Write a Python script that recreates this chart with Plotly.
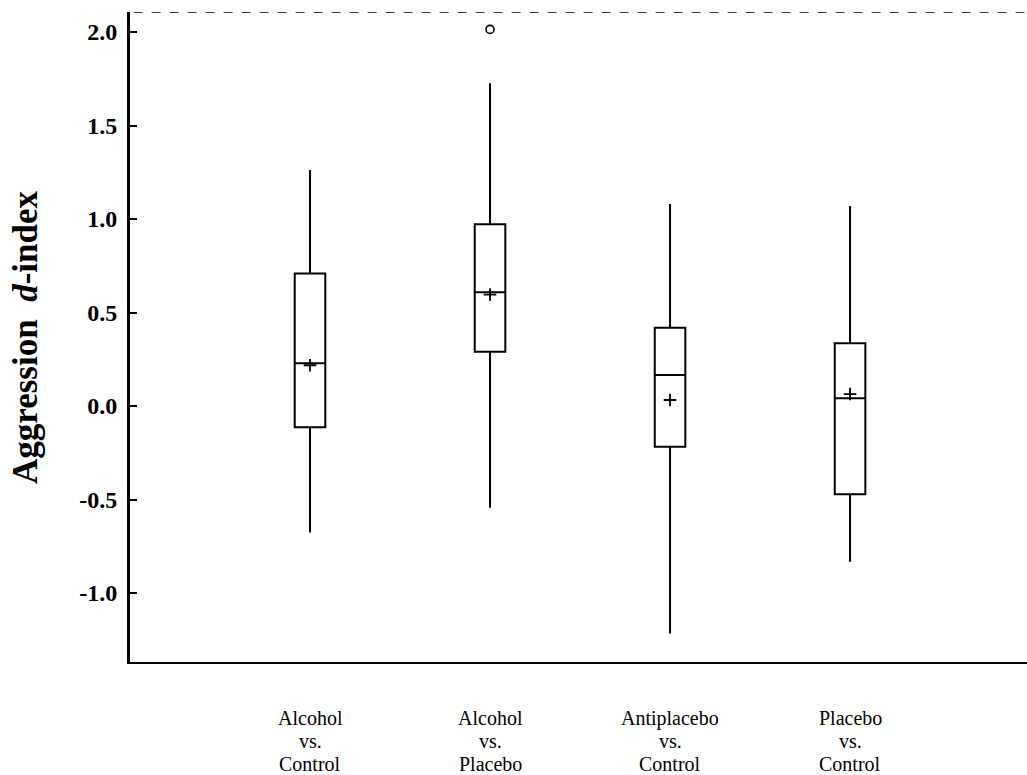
import plotly.graph_objects as go

# ---- data ----
categories = ["Alcohol vs. Control", "Alcohol vs. Placebo",
              "Antiplacebo vs. Control", "Placebo vs. Control"]
label_lines = [["Alcohol", "vs.", "Control"],
               ["Alcohol", "vs.", "Placebo"],
               ["Antiplacebo", "vs.", "Control"],
               ["Placebo", "vs.", "Control"]]
lower_whisker = [-0.677, -0.544, -1.216, -0.833]
q1_values = [-0.114, 0.290, -0.218, -0.472]
median_values = [0.228, 0.608, 0.166, 0.041]
q3_values = [0.709, 0.972, 0.419, 0.335]
upper_whisker = [1.262, 1.726, 1.080, 1.070]
mean_values = [0.218, 0.596, 0.032, 0.064]
outlier_category = ["Alcohol vs. Placebo"]
outlier_values = [2.014]
y_tick_values = [-1.0, -0.5, 0.0, 0.5, 1.0, 1.5, 2.0]
y_tick_labels = ["-1.0", "-0.5", "0.0", "0.5", "1.0", "1.5", "2.0"]

Y_MIN, Y_MAX = -1.369, 2.107
SERIF = "Liberation Serif, Times New Roman, serif"

fig = go.Figure()

fig.add_trace(go.Box(
    x=categories,
    lowerfence=lower_whisker,
    q1=q1_values,
    median=median_values,
    q3=q3_values,
    upperfence=upper_whisker,
    width=0.17,
    whiskerwidth=0,
    fillcolor="white",
    line=dict(color="black", width=2),
    boxpoints=False,
    showlegend=False,
    hoverinfo="skip",
))

fig.add_trace(go.Scatter(
    x=categories, y=mean_values, mode="markers",
    marker=dict(symbol="cross-thin", size=9, color="black",
                line=dict(color="black", width=1.8)),
    showlegend=False, hoverinfo="skip",
))

fig.add_trace(go.Scatter(
    x=outlier_category, y=outlier_values, mode="markers",
    marker=dict(symbol="circle-open", size=8, color="black",
                line=dict(color="black", width=1.6)),
    showlegend=False, hoverinfo="skip",
))

# top dashed border
fig.add_shape(type="line", xref="paper", yref="y",
              x0=0.004, x1=1, y0=Y_MAX, y1=Y_MAX,
              line=dict(color="black", width=1.6, dash="dash"))

# category labels, one annotation per line
shifts = [-56, -79, -102]
for cat, lines in zip(categories, label_lines):
    for txt, sh in zip(lines, shifts):
        fig.add_annotation(x=cat, xref="x", y=0, yref="paper",
                           text=txt, showarrow=False, borderpad=0,
                           xanchor="center", yanchor="middle", yshift=sh,
                           font=dict(family=SERIF, size=20, color="black"))

# y-axis title
fig.add_annotation(x=0, xref="paper", y=0.5, yref="paper",
                   xshift=-105, text="<b>Aggression  <i>d</i>-index</b>",
                   textangle=-90, showarrow=False,
                   xanchor="center", yanchor="middle",
                   font=dict(family=SERIF, size=35, color="black"))

fig.update_layout(
    width=1027, height=775,
    margin=dict(l=130, r=0, t=12, b=113),
    paper_bgcolor="white", plot_bgcolor="white",
    font=dict(family=SERIF, color="black"),
    showlegend=False,
    xaxis=dict(
        type="category", categoryorder="array", categoryarray=categories,
        range=[-1.0, 3.983], showticklabels=False, ticks="",
        showgrid=False, zeroline=False,
        showline=True, linecolor="black", linewidth=2.4,
    ),
    yaxis=dict(
        range=[Y_MIN, Y_MAX], tickvals=y_tick_values, ticktext=y_tick_labels,
        ticks="inside", ticklen=7, tickwidth=2, tickcolor="black",
        ticklabelstandoff=5,
        tickfont=dict(family=SERIF, size=24, color="black", weight="bold"),
        showgrid=False, zeroline=False,
        showline=True, linecolor="black", linewidth=2.8,
    ),
)

fig.write_html(
    "out.html",
    config={"displayModeBar": False},
    post_script="document.body.style.margin='0';document.body.style.overflow='hidden';",
)
